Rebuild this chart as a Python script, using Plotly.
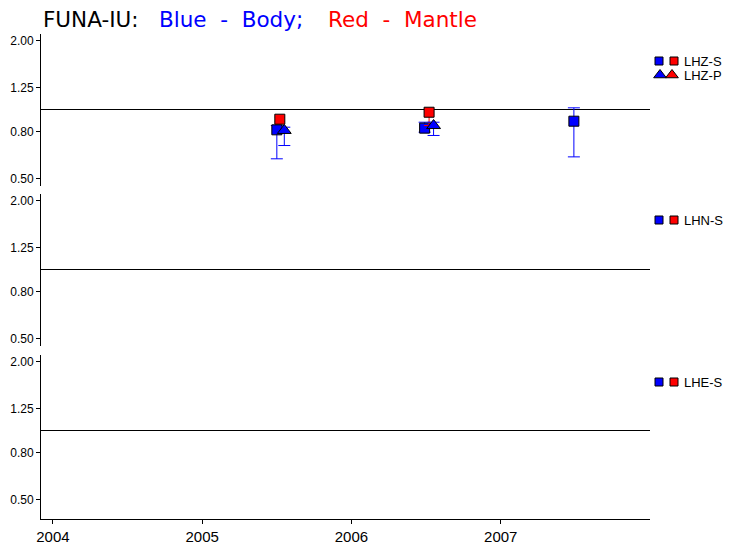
import plotly.graph_objects as go

# station / component panels (top to bottom)
panels = ["LHZ", "LHN", "LHE"]
year_ticks = [2004, 2005, 2006, 2007]
y_ticks = [0.5, 0.8, 1.25, 2.0]
y_tick_text = ["0.50", "0.80", "1.25", "2.00"]

# LHZ-S body (blue squares)
body_s_x = [2005.50, 2006.49, 2007.49]
body_s_y = [0.815, 0.829, 0.889]
body_s_lo = [0.609, 0.796, 0.621]
body_s_hi = [0.851, 0.880, 1.017]

# LHZ-S mantle (red squares)
mantle_s_x = [2005.52, 2006.52]
mantle_s_y = [0.907, 0.973]
mantle_s_lo = [0.886, 0.851]
mantle_s_hi = [0.925, 1.010]

# LHZ-P body (blue triangles)
body_p_x = [2005.55, 2006.55]
body_p_y = [0.810, 0.851]
body_p_lo = [0.696, 0.770]
body_p_hi = [0.837, 0.880]

BLUE = "#0000ff"
RED = "#ff0000"
FONT = "Liberation Sans"

# the page body has an 8px margin, so the figure is drawn 8px smaller
OFF = 8
W, H = 733 - OFF, 551 - OFF
L, B = 41 - OFF, 32
PW, PH = W - L, H - B


def ydom(top_px, bot_px):
    # page pixel rows -> paper fraction
    return [(PH - (bot_px - OFF)) / PH, (PH - (top_px - OFF)) / PH]


def err(y, lo, hi):
    return dict(type="data", symmetric=False,
                array=[h - v for v, h in zip(y, hi)],
                arrayminus=[v - l for v, l in zip(y, lo)])


fig = go.Figure()

# reference line at 1.0 in each panel
for i in range(3):
    ya = "y" if i == 0 else f"y{i + 1}"
    fig.add_trace(go.Scatter(x=[2003.92, 2008.0], y=[1, 1], mode="lines",
                             line=dict(color="black", width=1),
                             xaxis="x", yaxis=ya, hoverinfo="skip"))

fig.add_trace(go.Scatter(
    x=body_s_x, y=body_s_y, mode="markers", xaxis="x", yaxis="y",
    marker=dict(symbol="square", size=10, color=BLUE, line=dict(color="black", width=1)),
    error_y=dict(**err(body_s_y, body_s_lo, body_s_hi), color=BLUE, thickness=1, width=6)))
fig.add_trace(go.Scatter(
    x=mantle_s_x, y=mantle_s_y, mode="markers", xaxis="x", yaxis="y",
    marker=dict(symbol="square", size=10, color=RED, line=dict(color="black", width=1)),
    error_y=dict(**err(mantle_s_y, mantle_s_lo, mantle_s_hi), color=RED, thickness=1, width=5)))
fig.add_trace(go.Scatter(
    x=body_p_x, y=body_p_y, mode="markers", xaxis="x", yaxis="y",
    marker=dict(symbol="triangle-up", size=12, color=BLUE, line=dict(color="black", width=1)),
    error_y=dict(**err(body_p_y, body_p_lo, body_p_hi), color=BLUE, thickness=1, width=6)))

# legend keys, placed in page pixels on a separate full-size axis
key_rows = [("LHZ-S", 61, "square"), ("LHZ-P", 75, "triangle-up"),
            ("LHN-S", 220, "square"), ("LHE-S", 382, "square")]
for label, py, sym in key_rows:
    fig.add_trace(go.Scatter(
        x=[659, 674] if sym == "square" else [660, 672], y=[py, py], mode="markers",
        xaxis="x2", yaxis="y4", hoverinfo="skip",
        marker=dict(symbol=sym, size=8 if sym == "square" else 11,
                    color=[BLUE, RED], line=dict(color="black", width=1))))
    fig.add_annotation(x=682, y=py, xref="x2", yref="y4", text=label, showarrow=False,
                       xanchor="left", yanchor="middle",
                       font=dict(family=FONT, size=13, color="black"))

# title in three coloured parts
for txt, px0, col in [("FUNA-IU:", 42, "black"), ("Blue  -  Body;", 158, BLUE),
                      ("Red  -  Mantle", 327, RED)]:
    fig.add_annotation(x=px0, y=19, xref="x2", yref="y4", text=txt, showarrow=False,
                       xanchor="left", yanchor="middle", borderpad=0,
                       font=dict(family="DejaVu Sans", size=21.5, color=col))

yax = dict(type="log", tickvals=y_ticks, ticktext=y_tick_text, showline=True,
           linecolor="black", linewidth=1, ticks="outside", ticklen=4, tickcolor="black",
           showgrid=False, zeroline=False, anchor="x",
           tickfont=dict(family=FONT, size=12, color="black"))

fig.update_layout(
    width=W, height=H,
    margin=dict(l=L, r=0, t=0, b=B, autoexpand=False),
    paper_bgcolor="white", plot_bgcolor="rgba(0,0,0,0)",
    showlegend=False,
    xaxis=dict(domain=[0, 609 / PW], range=[2003.92, 2008.0], anchor="y3",
               tickvals=year_ticks, ticktext=[str(y) for y in year_ticks],
               showline=True, linecolor="black", linewidth=1, ticks="outside",
               ticklen=4, tickcolor="black", showgrid=False, zeroline=False,
               tickfont=dict(family=FONT, size=15, color="black")),
    yaxis=dict(yax, domain=ydom(33.5, 185.5), range=[-0.332, 0.332]),
    yaxis2=dict(yax, domain=ydom(193.5, 345.5), range=[-0.332, 0.332]),
    yaxis3=dict(yax, domain=ydom(354.5, 519), range=[-0.3865, 0.332]),
    xaxis2=dict(domain=[0, 1], range=[41, 733], visible=False, anchor="y4"),
    yaxis4=dict(domain=[0, 1], range=[519, 8], visible=False, anchor="x2"),
)

fig.write_html("out.html")
